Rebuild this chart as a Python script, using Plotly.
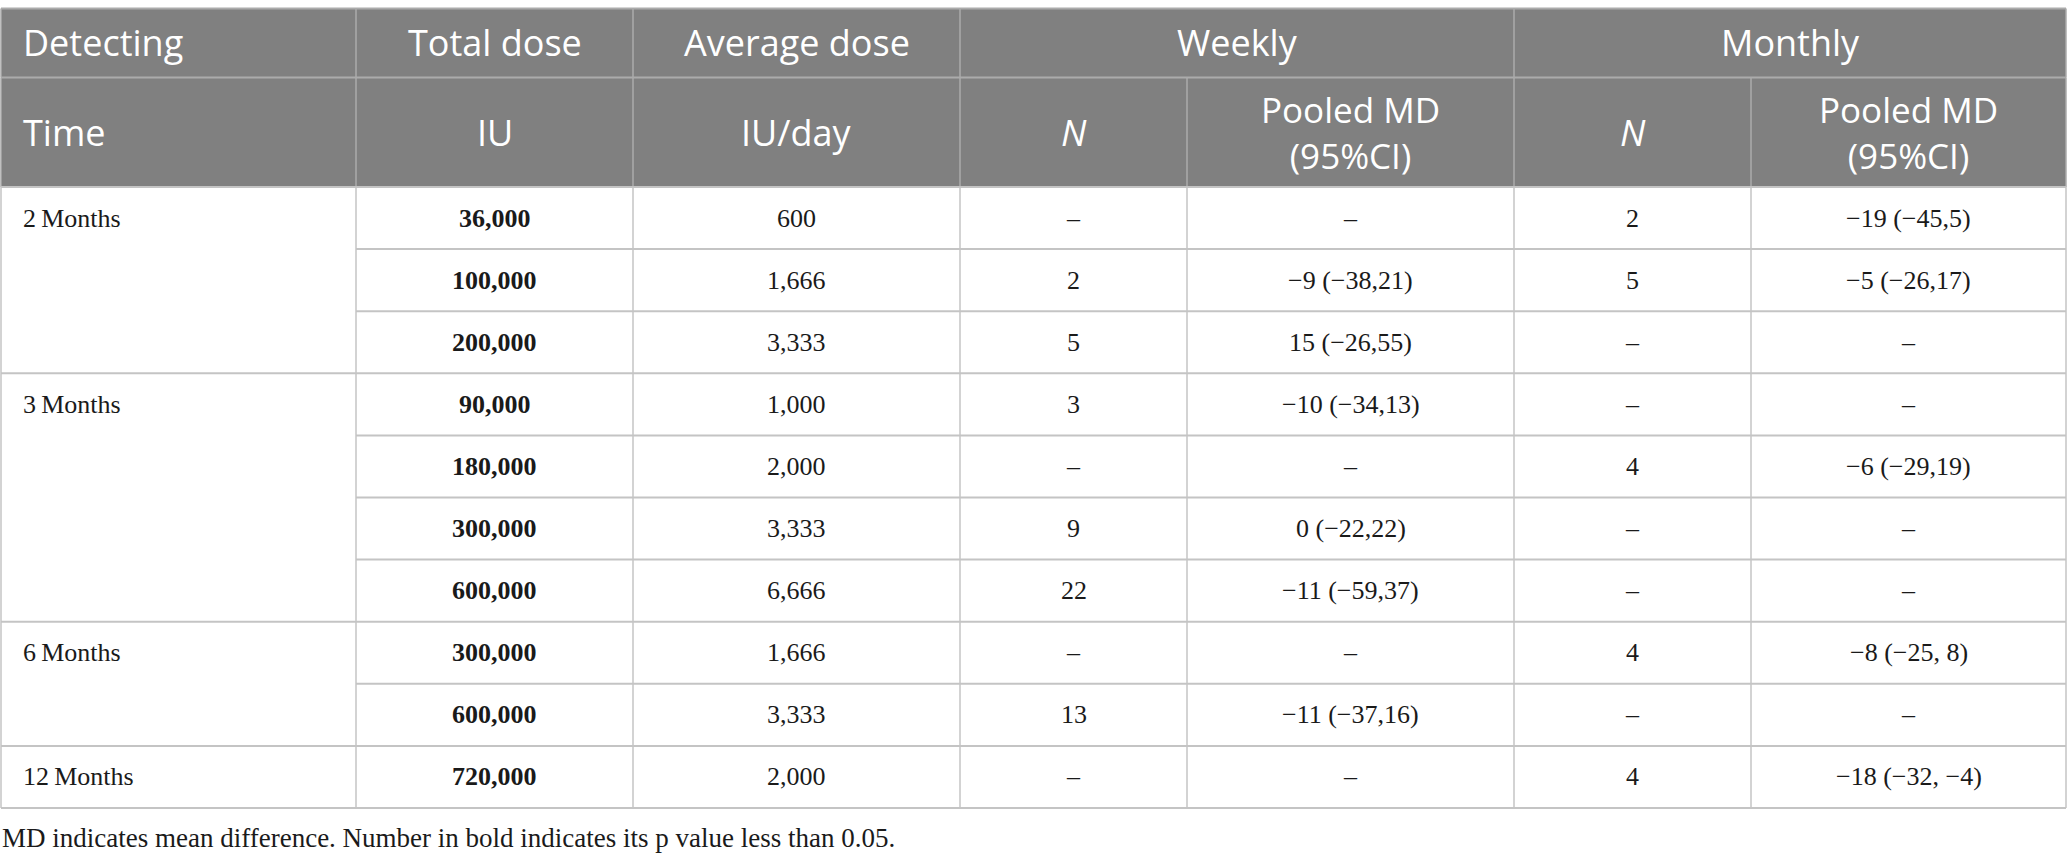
import plotly.graph_objects as go

# ---------------- data ----------------
times = ["2\u2009Months", "3\u2009Months", "6\u2009Months", "12\u2009Months"]
group_sizes = [3, 4, 2, 1]
total_dose = ["36,000", "100,000", "200,000", "90,000", "180,000", "300,000",
              "600,000", "300,000", "600,000", "720,000"]
avg_dose = ["600", "1,666", "3,333", "1,000", "2,000", "3,333", "6,666",
            "1,666", "3,333", "2,000"]
weekly_n = ["–", "2", "5", "3", "–", "9", "22", "–", "13", "–"]
weekly_md = ["–", "−9 (−38,21)", "15 (−26,55)", "−10 (−34,13)", "–",
             "0 (−22,22)", "−11 (−59,37)", "–", "−11 (−37,16)", "–"]
monthly_n = ["2", "5", "–", "–", "4", "–", "–", "4", "–", "4"]
monthly_md = ["−19 (−45,5)", "−5 (−26,17)", "–", "–", "−6 (−29,19)", "–",
              "–", "−8 (−25, 8)", "–", "−18 (−32, −4)"]
header1 = ["Detecting", "Total dose", "Average dose", "Weekly", "Monthly"]
header1_span = [1, 1, 1, 2, 2]
header2 = ["Time", "IU", "IU/day", "<i>N</i>", "Pooled MD<br>(95%CI)",
           "<i>N</i>", "Pooled MD<br>(95%CI)"]
footnote = "MD indicates mean difference. Number in bold indicates its p value less than 0.05."

# ---------------- layout geometry ----------------
W, H = 2068, 864
col_edges = [1, 356, 633, 960, 1187, 1514, 1751, 2066]
y_top, y_h1, y_h2 = 8.5, 77.5, 187
row_h = 62.1
HEAD_BG = "#808080"
HEAD_LINE = "#ababab"
BODY_LINE = "#c4c4c4"
HEAD_FONT = dict(family="Open Sans, Lato, sans-serif", size=36, color="white")
HEAD_FONT2 = dict(family="Open Sans, Lato, sans-serif", size=35, color="white")
BODY_FONT = dict(family="Liberation Serif, Times New Roman, serif", size=26, color="#1a1a1a")

n_rows = len(total_dose)
row_edges = [y_h2 + row_h * i for i in range(n_rows + 1)]

fig = go.Figure()
shapes = []
annotations = []

# header background
shapes.append(dict(type="rect", x0=col_edges[0], x1=col_edges[-1], y0=y_top, y1=y_h2,
                   fillcolor=HEAD_BG, line=dict(width=0), layer="below"))

def hline(x0, x1, y, color, w=2):
    shapes.append(dict(type="line", x0=x0, x1=x1, y0=y, y1=y, line=dict(color=color, width=w)))

def vline(x, y0, y1, color, w=1.5):
    shapes.append(dict(type="line", x0=x, x1=x, y0=y0, y1=y1, line=dict(color=color, width=w)))

def head_text(x0, x1, y, txt, left, font):
    if left:
        annotations.append(dict(x=x0 + 20, y=y, text=txt, xanchor="left", yanchor="middle",
                                showarrow=False, font=font))
    else:
        annotations.append(dict(x=(x0 + x1) / 2, y=y, text=txt, xanchor="center",
                                yanchor="middle", showarrow=False, font=font))

# header lines
hline(col_edges[0], col_edges[-1], y_top, HEAD_LINE)
hline(col_edges[0], col_edges[-1], y_h1, HEAD_LINE)
# header row 1
ci = 0
for txt, span in zip(header1, header1_span):
    x0, x1 = col_edges[ci], col_edges[ci + span]
    head_text(x0, x1, (y_top + y_h1) / 2 - 1, txt, ci == 0, HEAD_FONT)
    vline(x0, y_top, y_h1, HEAD_LINE)
    ci += span
vline(col_edges[-1], y_top, y_h1, HEAD_LINE)
# header row 2
yc2 = (y_h1 + y_h2) / 2
for i, txt in enumerate(header2):
    x0, x1 = col_edges[i], col_edges[i + 1]
    head_text(x0, x1, yc2, txt, i == 0, HEAD_FONT2 if "<br>" in txt else HEAD_FONT)
    vline(x0, y_h1, y_h2, HEAD_LINE)
vline(col_edges[-1], y_h1, y_h2, HEAD_LINE)

# body
cols = [total_dose, avg_dose, weekly_n, weekly_md, monthly_n, monthly_md]
r = 0
for t, g in zip(times, group_sizes):
    ytop = row_edges[r]
    annotations.append(dict(x=col_edges[0] + 20, y=ytop + row_h / 2, text=t, xanchor="left",
                            yanchor="middle", showarrow=False, font=BODY_FONT))
    hline(col_edges[0], col_edges[-1], ytop, BODY_LINE)
    for k in range(g):
        rr = r + k
        yc = row_edges[rr] + row_h / 2
        if k > 0:
            hline(col_edges[1], col_edges[-1], row_edges[rr], BODY_LINE)
        for j, col in enumerate(cols):
            txt = col[rr]
            if j == 0:
                txt = "<b>" + txt + "</b>"
            annotations.append(dict(x=(col_edges[j + 1] + col_edges[j + 2]) / 2, y=yc, text=txt,
                                    xanchor="center", yanchor="middle", showarrow=False,
                                    font=BODY_FONT))
    r += g
hline(col_edges[0], col_edges[-1], row_edges[-1], BODY_LINE)
for x in col_edges:
    vline(x, y_h2, row_edges[-1], BODY_LINE)

# footnote
annotations.append(dict(x=0, y=row_edges[-1] + 30, text=footnote, xanchor="left", yanchor="middle",
                        showarrow=False, font=dict(family="Liberation Serif, Times New Roman, serif",
                                                   size=27, color="#1a1a1a")))

fig.update_layout(
    width=W, height=H, margin=dict(l=0, r=0, t=0, b=0),
    paper_bgcolor="white", plot_bgcolor="white",
    xaxis=dict(range=[0, W], visible=False, fixedrange=True),
    yaxis=dict(range=[H, 0], visible=False, fixedrange=True),
    shapes=shapes, annotations=annotations, showlegend=False,
)
fig.write_html("out.html", config={"displayModeBar": False},
               post_script="document.body.style.margin='0';document.body.style.overflow='hidden';")
